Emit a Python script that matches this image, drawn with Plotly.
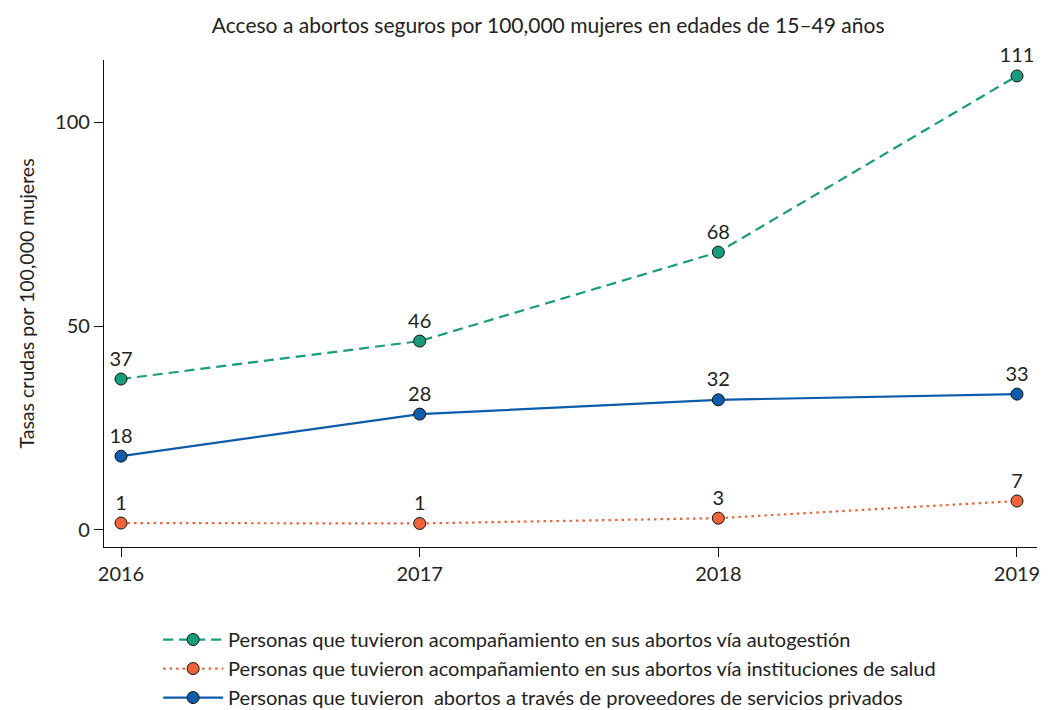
import plotly.graph_objects as go

years = [2016, 2017, 2018, 2019]
autogestion = [37.0, 46.3, 68.1, 111.3]
autogestion_lbl = ["37", "46", "68", "111"]
instituciones = [1.7, 1.6, 2.9, 7.1]
instituciones_lbl = ["1", "1", "3", "7"]
privados = [18.1, 28.4, 31.9, 33.3]
privados_lbl = ["18", "28", "32", "33"]

names = [
    "Personas que tuvieron acompañamiento en sus abortos vía autogestión",
    "Personas que tuvieron acompañamiento en sus abortos vía instituciones de salud",
    "Personas que tuvieron  abortos a través de proveedores de servicios privados",
]
title = "Acceso a abortos seguros por 100,000 mujeres en edades de 15–49 años"
ytitle = "Tasas crudas por 100,000 mujeres"

FONT = "Lato"
TXT = "#222"
GREEN = "#189c7c"
ORANGE = "#ee6438"
BLUE = "#0c5cab"

fig = go.Figure()
series = [
    (autogestion, autogestion_lbl, names[0], GREEN, "10px,6px"),
    (instituciones, instituciones_lbl, names[1], ORANGE, "2.5px,4px"),
    (privados, privados_lbl, names[2], BLUE, "solid"),
]
for vals, lbl, nm, col, dash in series:
    fig.add_trace(go.Scatter(
        x=years, y=vals, name=nm, mode="lines+markers+text",
        text=lbl, textposition="top center",
        textfont=dict(size=20, color=TXT, family=FONT),
        line=dict(color=col, width=2.2, dash=dash),
        marker=dict(size=12, color=col, line=dict(color="#111", width=1)),
        cliponaxis=False,
    ))

fig.update_layout(
    width=1055, height=710,
    margin=dict(l=96, r=26, t=52, b=171, autoexpand=False),
    paper_bgcolor="white", plot_bgcolor="white",
    font=dict(family=FONT, size=20, color=TXT),
    title=dict(text=title, x=0.512, xanchor="center", y=0.975, yanchor="middle",
               font=dict(size=21, family=FONT, color=TXT)),
    showlegend=True,
    legend=dict(x=0.058, xanchor="left", y=-0.15, yanchor="top",
                orientation="v", tracegroupgap=0, itemwidth=60,
                font=dict(size=20, family=FONT, color=TXT),
                bgcolor="rgba(0,0,0,0)"),
)
fig.update_xaxes(
    range=[2015.943, 2019.067], tickvals=years, ticktext=[str(y) for y in years],
    showgrid=False, zeroline=False, showline=True, linecolor="#111", linewidth=1.3,
    ticks="outside", ticklen=9, tickcolor="#111", tickwidth=1.3,
    tickfont=dict(size=20, family=FONT, color=TXT),
)
fig.update_yaxes(
    range=[-4.17, 115.2], tickvals=[0, 50, 100],
    showgrid=False, zeroline=False, showline=True, linecolor="#111", linewidth=1.3,
    ticks="outside", ticklen=9, tickcolor="#111", tickwidth=1.3,
    tickfont=dict(size=20, family=FONT, color=TXT),
    title=dict(text=ytitle, font=dict(size=19.5, family=FONT, color=TXT), standoff=15),
)

fig.write_html("out.html")
